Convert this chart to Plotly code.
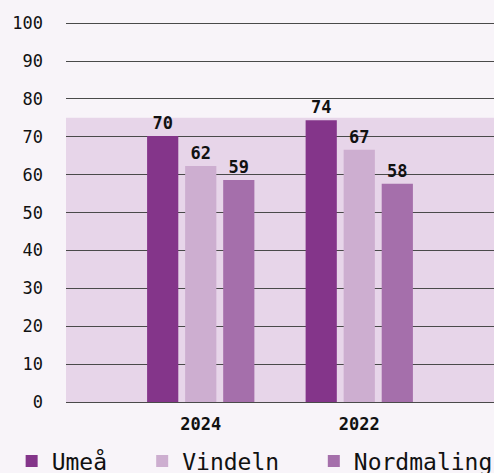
import plotly.graph_objects as go

years = ["2024", "2022"]
umea = [70.2, 74.4]
vindeln = [62.3, 66.6]
nordmaling = [58.6, 57.6]
series_names = ["Umeå", "Vindeln", "Nordmaling"]
series_colors = ["#84358a", "#cdaed0", "#a56fab"]
band_top = 75
y_ticks = [0, 10, 20, 30, 40, 50, 60, 70, 80, 90, 100]

FONT = "DejaVu Sans Mono"
BG = "#f8f4f9"
legend_ids = ["legend", "legend2", "legend3"]
legend_x = [-0.127, 0.178, 0.579]

fig = go.Figure()
for name, vals, col, lid in zip(series_names, [umea, vindeln, nordmaling], series_colors, legend_ids):
    fig.add_trace(go.Bar(
        name=name, x=years, y=vals, marker=dict(color=col, line=dict(width=0)),
        texttemplate="<b>%{y:.0f}</b>", textposition="outside", cliponaxis=False,
        textfont=dict(family=FONT, size=17, color="#111111"), legend=lid,
    ))

fig.add_shape(type="rect", xref="paper", yref="y", x0=0, x1=1, y0=0, y1=band_top,
              fillcolor="#e7d5e9", line=dict(width=0), layer="below")

legend_style = dict(orientation="h", y=-0.099, xanchor="left", yanchor="top",
                    font=dict(family=FONT, size=23, color="#111111"),
                    itemsizing="constant", bgcolor="rgba(0,0,0,0)")

fig.update_layout(
    width=494, height=473,
    paper_bgcolor=BG, plot_bgcolor=BG,
    margin=dict(l=66, r=0, t=22, b=71, autoexpand=False),
    barmode="group", bargap=0.28, bargroupgap=0.18,
    font=dict(family=FONT, color="#111111"),
    showlegend=True,
    legend=dict(x=legend_x[0], **legend_style),
    legend2=dict(x=legend_x[1], **legend_style),
    legend3=dict(x=legend_x[2], **legend_style),
)
fig.update_xaxes(range=[-0.85, 1.85], showgrid=False, zeroline=False, showline=False,
                 automargin=False, ticks="", ticklabelstandoff=10,
                 tickfont=dict(family=FONT, size=17, color="#111111"),
                 tickprefix="<b>", ticksuffix="</b>")
fig.update_yaxes(range=[0, 100.3], tickvals=y_ticks, showgrid=True, gridcolor="#4a4a4a",
                 gridwidth=1, zeroline=True, zerolinecolor="#4a4a4a", zerolinewidth=1,
                 showline=False, ticks="", ticklabelstandoff=22, automargin=False,
                 tickfont=dict(family=FONT, size=17, color="#111111"))

fig.write_html("out.html", config={"displayModeBar": False},
               post_script="document.body.style.margin='0';document.body.style.background='%s';" % BG)
